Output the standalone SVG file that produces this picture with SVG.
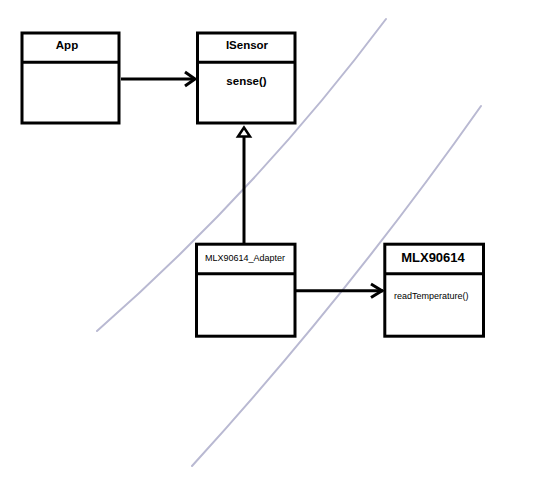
<svg xmlns="http://www.w3.org/2000/svg" width="540" height="483" viewBox="0 0 540 483">
<style>
.box{fill:#fff;stroke:#000;stroke-width:3}
.div{stroke:#000;stroke-width:3}
.b{font-family:"Liberation Sans",Arial,sans-serif;font-weight:bold;font-size:11.5px;fill:#000}
.r{font-family:"Liberation Sans",Arial,sans-serif;font-size:9px;fill:#000}
.conn{stroke:#000;stroke-width:3;fill:none}
.sep{stroke:#b9b9d2;stroke-width:2;fill:none;stroke-linecap:round}
</style>
<rect width="540" height="483" fill="#fff"/>
<g id="separators">
<path class="sep" d="M97,331 Q258,190 386,19"/>
<path class="sep" d="M192,466 Q348,295 481,106"/>
</g>
<g id="App">
<rect class="box" x="22" y="33" width="97" height="90"/>
<line class="div" x1="22" y1="62.3" x2="119" y2="62.3"/>
<text class="b" x="67" y="49" text-anchor="middle">App</text>
</g>
<g id="ISensor">
<rect class="box" x="197.5" y="33" width="97.5" height="90"/>
<line class="div" x1="197.5" y1="62.3" x2="295" y2="62.3"/>
<text class="b" x="247" y="49" text-anchor="middle">ISensor</text>
<text class="b" x="246.5" y="85" text-anchor="middle">sense()</text>
</g>
<g id="MLX90614_Adapter">
<rect class="box" x="196.5" y="244.2" width="98.5" height="92"/>
<line class="div" x1="196.5" y1="273.7" x2="295" y2="273.7"/>
<text class="r" x="245" y="261" text-anchor="middle">MLX90614_Adapter</text>
</g>
<g id="MLX90614">
<rect class="box" x="384.8" y="244.2" width="98.7" height="92"/>
<line class="div" x1="384.8" y1="273.7" x2="483.5" y2="273.7"/>
<text class="b" x="433" y="262" text-anchor="middle" style="font-size:13px">MLX90614</text>
<text class="r" x="394" y="299">readTemperature()</text>
</g>
<g id="connectors">
<line class="conn" x1="121" y1="79" x2="195" y2="79"/>
<polyline class="conn" points="185,72 195,79 185,86"/>
<line class="conn" x1="296" y1="290.7" x2="383" y2="290.7"/>
<polyline class="conn" points="371,284 382,290.7 371,297.5"/>
<line class="conn" x1="244" y1="136" x2="244" y2="243"/>
<polygon points="244,127.5 238,136.5 250,136.5" fill="#fff" stroke="#000" stroke-width="2.5"/>
</g>
</svg>
